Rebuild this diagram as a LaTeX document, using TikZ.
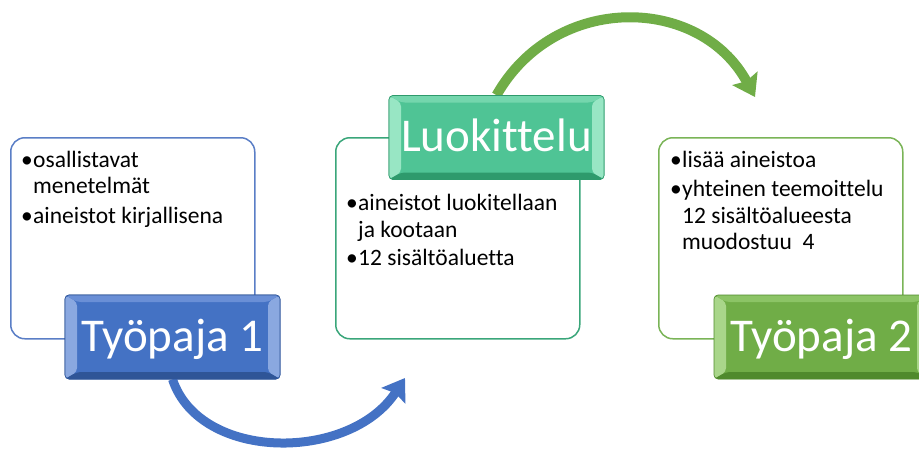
\documentclass[tikz,border=0pt]{standalone}
\usepackage{fontspec}
\setmainfont{Carlito}[Ligatures={NoCommon}]
\usetikzlibrary{arrows.meta}
\definecolor{bmain}{HTML}{4472C4}
\definecolor{blight}{HTML}{8AA8E0}
\definecolor{btop}{HTML}{6A8FD6}
\definecolor{bdark}{HTML}{2F5597}
\definecolor{tmain}{HTML}{4FC495}
\definecolor{tlight}{HTML}{98E6C4}
\definecolor{ttop}{HTML}{74D6AD}
\definecolor{tdark}{HTML}{2E9A6C}
\definecolor{gmain}{HTML}{70AD47}
\definecolor{glight}{HTML}{A9D68A}
\definecolor{gtop}{HTML}{8CC466}
\definecolor{gdark}{HTML}{4F8A2C}
\definecolor{b1border}{HTML}{5A7EC6}
\definecolor{b2border}{HTML}{3AA67A}
\definecolor{b3border}{HTML}{7AB457}
\tikzset{
  txtbox/.style={draw=#1, line width=1.5pt, fill=white, rounded corners=14pt,
    anchor=north west, minimum width=244pt, minimum height=201pt, inner sep=0pt},
  bodyline/.style={anchor=base west, inner sep=0pt, font=\fontsize{23.5}{28}\selectfont},
  title/.style n args={4}{fill=#1, draw=#4, line width=0.6pt, rounded corners=4pt,
    minimum width=215pt, minimum height=84pt, inner sep=0pt,
    text height=35pt, text depth=7pt, text=white,
    font=\fontsize{47}{50}\selectfont,
    path picture={
      \fill[#2] (path picture bounding box.north west) -- ([shift={(12pt,-7pt)}]path picture bounding box.north west)
        -- ([shift={(12pt,7pt)}]path picture bounding box.south west) -- (path picture bounding box.south west) -- cycle;
      \fill[#2] (path picture bounding box.north east) -- ([shift={(-12pt,-7pt)}]path picture bounding box.north east)
        -- ([shift={(-12pt,7pt)}]path picture bounding box.south east) -- (path picture bounding box.south east) -- cycle;
      \fill[#3] (path picture bounding box.north west) -- (path picture bounding box.north east)
        -- ([shift={(-12pt,-7pt)}]path picture bounding box.north east) -- ([shift={(12pt,-7pt)}]path picture bounding box.north west) -- cycle;
      \fill[#4] (path picture bounding box.south west) -- (path picture bounding box.south east)
        -- ([shift={(-12pt,7pt)}]path picture bounding box.south east) -- ([shift={(12pt,7pt)}]path picture bounding box.south west) -- cycle;
    }},
  flow/.style={line width=#1, -{Stealth[length=21pt,width=28pt,inset=3pt]}},
}
\begin{document}
\begin{tikzpicture}[x=1pt,y=-1pt]
\clip (0,0) rectangle (919,448);
% text boxes
\node[txtbox=b1border] (b1) at (10,137) {};
\node[txtbox=b2border] (b2) at (335,137) {};
\node[txtbox=b3border] (b3) at (658,137) {};
% title nodes
\node[title={bmain}{blight}{btop}{bdark}] (t1) at (172.5,337) {Työpaja 1};
\node[title={tmain}{tlight}{ttop}{tdark}] (t2) at (496.5,137.5) {Luokittelu};
\node[title={gmain}{glight}{gtop}{gdark}] (t3) at (821.5,337) {Työpaja 2};
\coordinate (e1) at (405,378);
\coordinate (e2) at (755,97);
% arrows
\draw[flow=9pt, bmain] (t1.south) .. controls (200,462) and (350,462) .. (e1);
\draw[flow=10pt, gmain] (t2.north) .. controls (555,-8) and (700,-5) .. (e2);
% redraw titles on top of arrows
\node[title={bmain}{blight}{btop}{bdark}] at (t1) {Työpaja 1};
\node[title={tmain}{tlight}{ttop}{tdark}] at (t2) {Luokittelu};
% body texts
\node[bodyline] (p1a) at (21,167) {•};
\node[bodyline] (p1b) at (33,167) {osallistavat};
\node[bodyline] (p1c) at (33,193) {menetelmät};
\node[bodyline] (p1d) at (21,223) {•};
\node[bodyline] (p1e) at (33,223) {aineistot kirjallisena};
\node[bodyline] (p2a) at (346,210) {•};
\node[bodyline] (p2b) at (358,210) {aineistot luokitellaan};
\node[bodyline] (p2c) at (358,237) {ja kootaan};
\node[bodyline] (p2d) at (346,265) {•};
\node[bodyline] (p2e) at (358,265) {12 sisältöaluetta};
\node[bodyline] (p3a) at (670,167) {•};
\node[bodyline] (p3b) at (682,167) {lisää aineistoa};
\node[bodyline] (p3c) at (670,196) {•};
\node[bodyline] (p3d) at (682,196) {yhteinen teemoittelu};
\node[bodyline] (p3e) at (682,223) {12 sisältöalueesta};
\node[bodyline] (p3f) at (682,249) {muodostuu\ \ 4};
\end{tikzpicture}
\end{document}
